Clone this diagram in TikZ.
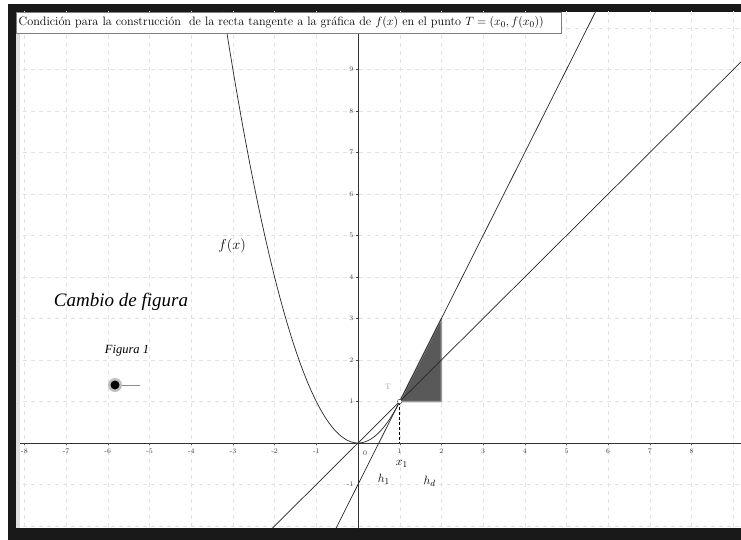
\documentclass[tikz,border=0pt]{standalone}
\usepackage{fontspec}
\newfontfamily\timesit{Liberation Serif}
\tikzset{
  gridline/.style={gray!22, dash pattern=on 4pt off 4pt, line width=0.4pt},
  axisline/.style={black!80, line width=0.8pt},
  curve/.style={black!85, line width=0.7pt},
  ticklab/.style={font=\fontsize{7}{8}\selectfont, text=black!75, inner sep=1pt},
}
\begin{document}
\begin{tikzpicture}[x=1pt,y=-1pt]
\useasboundingbox (0,0) rectangle (741,540);
\fill[white] (0,0) rectangle (741,540);
\fill[black!90] (8,4) rectangle (741,540);
\fill[white] (16,12) rectangle (741,528);
\fill[black!12] (16,12) rectangle (20,528);
\begin{scope}
\clip (20,12) rectangle (741,528);
\begin{scope}[shift={(358,443)}, x=41.7pt, y=41.5pt]
  % grid
  \foreach \i in {-8,...,9} \draw[gridline] (\i,-2.4) -- (\i,10.7);
  \foreach \j in {-2,...,10} \draw[gridline] (-8.6,\j) -- (9.3,\j);
  % shaded triangle
  \fill[black!65, draw=black!40, line width=1.5pt, line join=round] (1,1) -- (2,3) -- (2,1) -- cycle;
  % axes
  \draw[axisline] (-8.6,0) -- (9.3,0);
  \draw[axisline] (0,-2.4) -- (0,10.7);
  \foreach \i in {-8,...,-1,1,2,...,8} {
    \draw[black!70, line width=0.4pt] (\i,0) -- (\i,-0.05);
    \node[ticklab, below] (xl\i) at (\i,-0.1) {\i};
  }
  \node[ticklab] (xl0) at (0.17,-0.25) {0};
  \foreach \j in {1,...,9} {
    \draw[black!70, line width=0.4pt] (0,\j) -- (-0.05,\j);
    \node[ticklab, left] (yl\j) at (-0.08,\j) {\j};
  }
  \node[ticklab, left] (ylm1) at (-0.08,-1) {-1};
  % curves
  \draw[curve, domain=-3.3:1, samples=80] plot (\x,{\x*\x});
  \draw[curve] (-2.5,-2.5) -- (9.5,9.5);
  \draw[curve] (-0.8,-2.6) -- (5.9,10.8);
  % dashed
  \coordinate (T) at (1,1);
  \coordinate (Tx) at (1,0);
  \draw[black, line width=0.8pt, dash pattern=on 3pt off 2pt] (T) -- (Tx);
  \node[circle, draw=black!80, fill=white, inner sep=0pt, minimum size=4.5pt] (Tp) at (T) {};
  \node[text=black!35, font=\fontsize{8}{9}\selectfont] (Tlab) at (0.72,1.35) {T};
  % labels
  \node[font=\fontsize{14}{16}\selectfont] (fx) at (-3.02,4.75) {$f(x)$};
  \node[font=\fontsize{13}{15}\selectfont] (x1) at (1.05,-0.5) {$x_1$};
  \node[font=\fontsize{13}{15}\selectfont] (h1) at (0.62,-0.88) {$h_1$};
  \node[font=\fontsize{13}{15}\selectfont] (hd) at (1.72,-0.92) {$h_d$};
\end{scope}
\end{scope}
% title box
\node[draw=black!50, fill=white, anchor=north west, minimum height=21pt, text width=540pt, inner sep=2.5pt, align=left, font=\fontsize{12.2}{14}\selectfont] (title) at (16,12)
  {Condición para la construcción\ \ de la recta tangente a la gráfica de $f(x)$ en el punto $T=(x_0,f(x_0))$};
% left texts
\node[font=\timesit\itshape\fontsize{19}{22}\selectfont] (cambio) at (121,302) {Cambio de figura};
\node[font=\timesit\itshape\fontsize{12.5}{14}\selectfont] (fig) at (127,351) {Figura 1};
% slider
\coordinate (sl) at (140,385);
\draw[black!45, line width=1pt] (115,385) -- (sl);
\fill[black!25] (115,385) circle (7);
\node[circle, fill=black, inner sep=0pt, minimum size=9pt] (dot) at (115,385) {};
\end{tikzpicture}
\end{document}
